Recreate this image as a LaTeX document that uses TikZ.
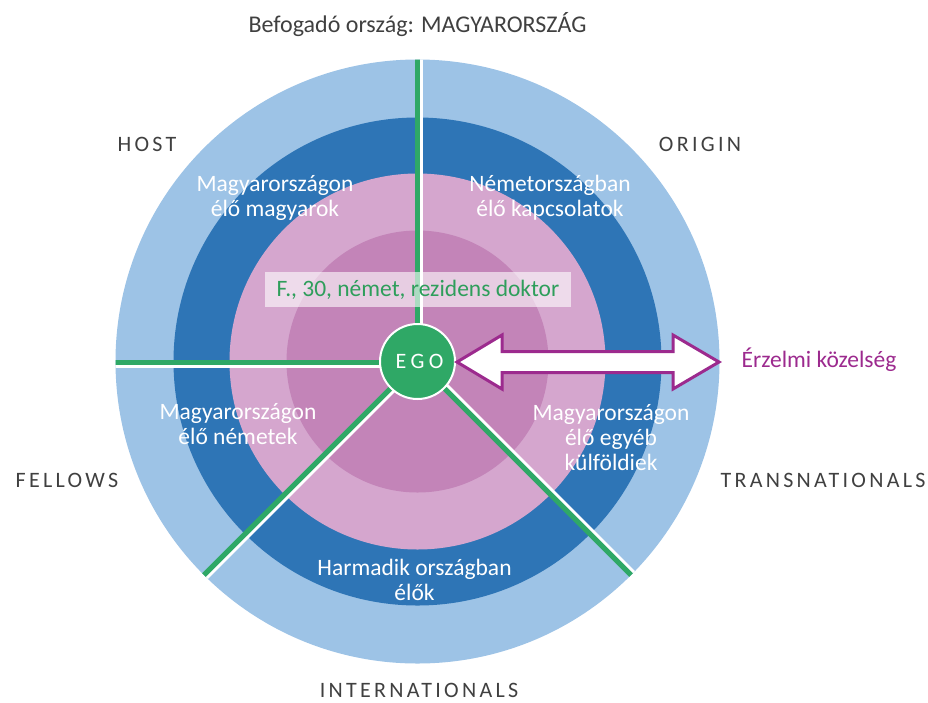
\documentclass[tikz,border=0pt]{standalone}
\usepackage{fontspec}
\setmainfont{Carlito}
\usetikzlibrary{calc}
\definecolor{lightblue}{HTML}{9DC3E6}
\definecolor{darkblue}{HTML}{2E75B6}
\definecolor{pinklight}{HTML}{D5A6CE}
\definecolor{pinkinner}{HTML}{C384B8}
\definecolor{egogreen}{HTML}{2FA866}
\definecolor{boxgreen}{HTML}{2E9E5B}
\definecolor{arrowpurple}{HTML}{9C2A8E}
\definecolor{labelgray}{HTML}{404040}
\tikzset{
  inlabel/.style={text=white, align=center, inner sep=0pt, font=\fontsize{23.5}{25}\selectfont},
  outlabel/.style={text=labelgray, inner sep=0pt, font=\fontsize{22}{25}\selectfont\addfontfeatures{LetterSpace=15}},
  greenline/.style={egogreen, line width=5pt},
  whiteline/.style={white, line width=3pt},
}
\begin{document}
\begin{tikzpicture}[x=1pt,y=-1pt]
\useasboundingbox (0,0) rectangle (928,702);
\coordinate (c) at (417.5,361.5);
% rings
\fill[lightblue] (c) circle (302);
\fill[darkblue] (c) circle (244);
\fill[pinklight] (c) circle (188);
\fill[pinkinner] (c) circle (131);
% sector lines
\begin{scope}
  \clip (c) circle (302);
  \coordinate (vtop) at (417.5,40);
  \coordinate (hleft) at (100,362.5);
  \coordinate (dll) at ($(c)+(-230,230)$);
  \coordinate (dlr) at ($(c)+(230,230)$);
  \draw[whiteline] ($(c)+(4,0)$) -- ($(vtop)+(4,0)$);
  \draw[greenline] (c) -- (vtop);
  \draw[whiteline] ($(c)+(0,5)$) -- ($(hleft)+(0,4)$);
  \draw[greenline] ($(c)+(0,1)$) -- (hleft);
  \draw[whiteline] ($(c)+(2.83,2.83)$) -- ($(dll)+(2.83,2.83)$);
  \draw[greenline] (c) -- (dll);
  \draw[whiteline] ($(c)+(2.83,-2.83)$) -- ($(dlr)+(2.83,-2.83)$);
  \draw[greenline] (c) -- (dlr);
\end{scope}
% profile box
\node[fill=white, fill opacity=0.6, text opacity=1, text=boxgreen, minimum width=306pt, minimum height=35pt, inner sep=0pt, font=\fontsize{23.5}{25}\selectfont] (profile) at (418,289.5) {F., 30, német, rezidens doktor};
% EGO
\node[circle, fill=egogreen, draw=white, line width=2pt, minimum size=75pt, inner sep=0pt, text=white, font=\fontsize{22}{25}\selectfont\addfontfeatures{LetterSpace=20}] (ego) at (c) {\hspace*{4pt}EGO};
% double arrow
\coordinate (ltip) at (457,362);
\coordinate (rtip) at (719,362);
\draw[arrowpurple, fill=white, line width=3pt, line join=miter]
  (ltip) -- ++(45,-27) -- ++(0,16.5) -- ($(rtip)+(-46,-10.5)$) -- ++(0,-16.5) -- (rtip)
  -- ++(-46,27) -- ++(0,-16.5) -- ($(ltip)+(45,10.5)$) -- ++(0,16.5) -- cycle;
% inner labels
\node[inlabel] (host) at (275,198) {Magyarországon\\élő magyarok};
\node[inlabel] (origin) at (550,198) {Németországban\\élő kapcsolatok};
\node[inlabel] (fellows) at (238,424) {Magyarországon\\élő németek};
\node[inlabel] (trans) at (611,438) {Magyarországon\\élő egyéb\\külföldiek};
\node[inlabel] (inter) at (414.5,580) {Harmadik országban\\élők};
% outer labels
\node[outlabel] (lhost) at (147,144) {HOST};
\node[outlabel] (lorigin) at (700,144) {ORIGIN};
\node[outlabel] (lfellows) at (67,480) {FELLOWS};
\node[outlabel] (ltrans) at (823,480) {TRANSNATIONALS};
\node[outlabel] (linter) at (419,690) {INTERNATIONALS};
\node[text=labelgray, inner sep=0pt, font=\fontsize{24}{25}\selectfont] (title) at (417.5,25) {Befogadó ország: MAGYARORSZÁG};
\node[text=arrowpurple, inner sep=0pt, font=\fontsize{23.5}{25}\selectfont] (emo) at (819,360) {Érzelmi közelség};
\end{tikzpicture}
\end{document}
